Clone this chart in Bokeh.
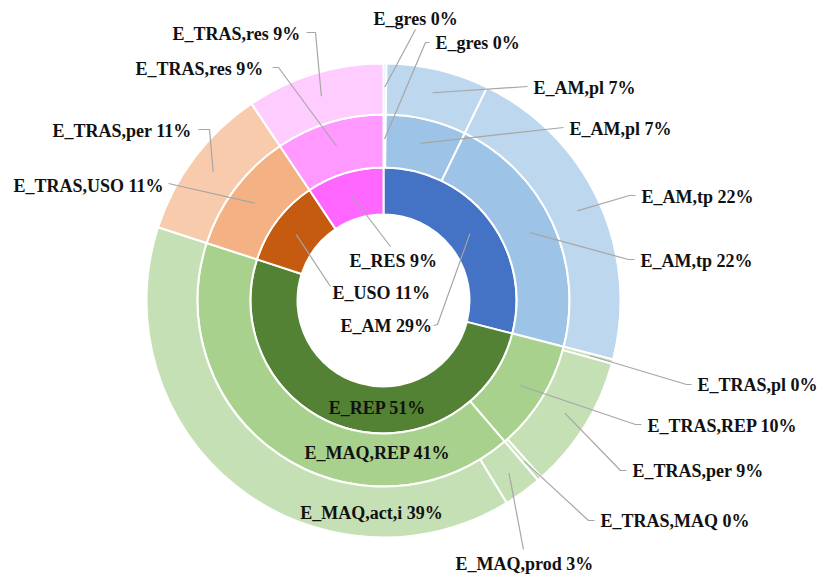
import math

from bokeh.core.properties import value
from bokeh.embed import file_html
from bokeh.models import ColumnDataSource, Range1d
from bokeh.plotting import figure
from bokeh.resources import INLINE

W, H = 818, 576

# ---- data (percent of total) ----
inner_names = ["E_AM", "E_REP", "E_USO", "E_RES"]
inner_vals = [29.0, 51.0, 10.6, 9.4]

mid_names = ["E_gres", "E_AM,pl", "E_AM,tp", "E_TRAS,REP", "E_MAQ,REP", "E_TRAS,USO", "E_TRAS,res"]
mid_vals = [0.2, 7.0, 21.8, 9.7, 41.3, 10.6, 9.4]
mid_family = [0, 0, 0, 1, 1, 2, 3]

outer_names = ["E_gres", "E_AM,pl", "E_AM,tp", "E_TRAS,pl", "E_TRAS,per", "E_TRAS,MAQ",
               "E_MAQ,prod", "E_MAQ,act,i", "E_TRAS,per", "E_TRAS,res"]
outer_vals = [0.2, 7.0, 21.8, 0.3, 9.1, 0.3, 2.6, 38.7, 10.6, 9.4]
outer_family = [0, 0, 0, 1, 1, 1, 1, 1, 2, 3]

inner_family = [0, 1, 2, 3]

# ---- styling ----
inner_colors = ["#4472C4", "#548235", "#C55A11", "#FF66FF"]
mid_colors = ["#9DC3E6", "#A9D18E", "#F4B183", "#FF99FF"]
outer_colors = ["#BDD7EE", "#C5E0B4", "#F8CBAD", "#FFCCFF"]

CX, CY = 383, 300                      # centre, pixel coords (y down)
R_HOLE, R1, R2, R3 = 86, 133, 186, 237  # ring boundaries

FONT = value("Liberation Serif")
LEADER = "#A6A6A6"

# label placement (x, y, align, leader elbow points), pixel coords (y down)
inner_layout = [
    (340, 325, "left", [(433, 325), (437, 324)]),
    (377, 407, "center", []),
    (332, 292, "left", [(330, 286)]),
    (349, 260, "left", [(390, 246)]),
]
mid_layout = [
    (435, 42, "left", [(429, 42), (425, 42)]),
    (569, 128, "left", [(563, 127)]),
    (640, 260, "left", [(634, 259), (628, 259)]),
    (647, 425, "left", [(641, 424), (635, 424)]),
    (377, 452, "center", []),
    (13, 185, "left", [(168, 183)]),
    (135, 68, "left", [(272, 67), (278, 67)]),
]
outer_layout = [
    (373, 18, "left", [(415, 29)]),
    (533, 87, "left", [(527, 86)]),
    (641, 196, "left", [(635, 195), (629, 195)]),
    (697, 384, "left", [(691, 384), (686, 384)]),
    (632, 470, "left", [(626, 470), (620, 470)]),
    (600, 520, "left", [(594, 520), (588, 520)]),
    (455, 563, "left", [(523, 549)]),
    (371, 512, "center", []),
    (52, 130, "left", [(198, 129), (209, 129)]),
    (172, 33, "left", [(306, 32), (315, 32)]),
]


def fy(y_px):
    return H - y_px


p = figure(width=W, height=H, output_backend="svg", toolbar_location=None,
           x_range=Range1d(0, W), y_range=Range1d(0, H),
           x_axis_location=None, y_axis_location=None, min_border=0,
           background_fill_color="white", border_fill_color="white")
p.grid.visible = False
p.outline_line_color = None

leader_xs, leader_ys = [], []
lab_left = dict(x=[], y=[], text=[])
lab_center = dict(x=[], y=[], text=[])


def draw_ring(names, vals, family, colors, r_in, r_out, layout):
    starts, ends, fills = [], [], []
    acc = 0.0
    r_mid = (r_in + r_out) / 2 + (2 if r_in > R_HOLE else 0)
    for name, v, fam, (lx, ly, align, elbow) in zip(names, vals, family, layout):
        f0, f1 = acc / 100.0, (acc + v) / 100.0
        acc += v
        starts.append(math.pi / 2 - 2 * math.pi * f1)
        ends.append(math.pi / 2 - 2 * math.pi * f0)
        fills.append(colors[fam])
        label = f"{name} {round(v)}%"
        tgt = lab_left if align == "left" else lab_center
        tgt["x"].append(lx)
        tgt["y"].append(fy(ly))
        tgt["text"].append(label)
        if elbow:
            fm = (f0 + f1) / 2
            tx = CX + r_mid * math.sin(2 * math.pi * fm)
            ty = CY - r_mid * math.cos(2 * math.pi * fm)
            pts = elbow + [(tx, ty)]
            leader_xs.append([pt[0] for pt in pts])
            leader_ys.append([fy(pt[1]) for pt in pts])
    src = ColumnDataSource(dict(start=starts, end=ends, color=fills))
    p.annular_wedge(x=CX, y=fy(CY), inner_radius=r_in, outer_radius=r_out,
                    start_angle="start", end_angle="end", fill_color="color",
                    line_color="white", line_width=2, source=src)


# the inner ring is its own family
draw_ring(inner_names, inner_vals, inner_family, inner_colors, R_HOLE, R1, inner_layout)
draw_ring(mid_names, mid_vals, mid_family, mid_colors, R1, R2, mid_layout)
draw_ring(outer_names, outer_vals, outer_family, outer_colors, R2, R3, outer_layout)

p.multi_line(xs=leader_xs, ys=leader_ys, line_color=LEADER, line_width=1.2)

for data, align in ((lab_left, "left"), (lab_center, "center")):
    p.text(x="x", y="y", text="text", source=ColumnDataSource(data),
           text_font=FONT, text_font_style="bold", text_font_size="18px",
           text_color="#111111", text_align=align, text_baseline="middle")

open("out.html", "w").write(file_html(p, INLINE))
